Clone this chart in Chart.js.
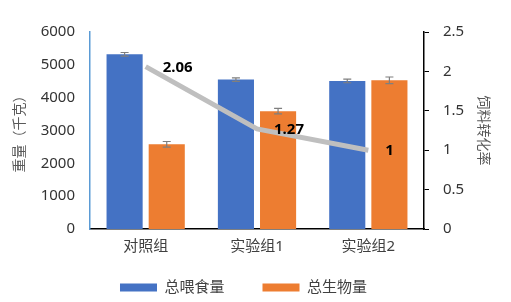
<!DOCTYPE html>
<html><head><meta charset="utf-8">
<script src="https://cdn.jsdelivr.net/npm/chart.js@4/dist/chart.umd.min.js"></script>
<style>html,body{margin:0;padding:0;background:#fff;}canvas{display:block;}</style>
</head><body>
<canvas id="c" width="511" height="302"></canvas>
<script>
const categories = ['对照组', '实验组1', '实验组2'];
const feedTotal = [5320, 4550, 4510];
const feedErr = [55, 55, 55];
const biomassTotal = [2580, 3590, 4530];
const biomassErr = [85, 85, 100];
const fcr = [2.06, 1.27, 1.0];
const fcrLabels = ['2.06', '1.27', '1'];
const leftTicks = [0, 1000, 2000, 3000, 4000, 5000, 6000];
const rightTicks = [0, 0.5, 1, 1.5, 2, 2.5];

const FONT = '"Noto Sans", "Noto Sans CJK SC", sans-serif';

const errorBars = {
  id: 'errorBars',
  afterDatasetsDraw(chart) {
    const ctx = chart.ctx;
    const y = chart.scales.y;
    const errs = [feedErr, biomassErr];
    ctx.save();
    ctx.strokeStyle = '#7f7f7f';
    ctx.lineWidth = 1.2;
    [0, 1].forEach(di => {
      const meta = chart.getDatasetMeta(di);
      meta.data.forEach((bar, i) => {
        const v = chart.data.datasets[di].data[i];
        const e = errs[di][i];
        const yt = y.getPixelForValue(v + e), yb = y.getPixelForValue(v - e);
        const x = bar.x;
        ctx.beginPath();
        ctx.moveTo(x, yt); ctx.lineTo(x, yb);
        ctx.moveTo(x - 4, yt); ctx.lineTo(x + 4, yt);
        ctx.moveTo(x - 4, yb); ctx.lineTo(x + 4, yb);
        ctx.stroke();
      });
    });
    ctx.restore();
  }
};

const lineLabels = {
  id: 'lineLabels',
  afterDatasetsDraw(chart) {
    const ctx = chart.ctx;
    const meta = chart.getDatasetMeta(2);
    ctx.save();
    ctx.fillStyle = '#000';
    ctx.font = 'bold 15px ' + FONT;
    ctx.textAlign = 'left';
    ctx.textBaseline = 'middle';
    meta.data.forEach((pt, i) => {
      ctx.fillText(fcrLabels[i], pt.x + 17, pt.y + 1);
    });
    ctx.restore();
  }
};

const legendShift = {
  id: 'legendShift',
  beforeDraw(chart) {
    const lg = chart.legend;
    if (lg) {
      lg.left = -12;
      lg.right = chart.width - 12;
      lg.top = 242;
    }
  }
};

new Chart(document.getElementById('c'), {
  data: {
    labels: categories,
    datasets: [
      { type: 'bar', label: '总喂食量', data: feedTotal, backgroundColor: '#4472c4', yAxisID: 'y', order: 1,
        categoryPercentage: 0.757, barPercentage: 0.857 },
      { type: 'bar', label: '总生物量', data: biomassTotal, backgroundColor: '#ed7d31', yAxisID: 'y', order: 1,
        categoryPercentage: 0.757, barPercentage: 0.857 },
      { type: 'line', label: '饲料转化率', data: fcr, borderColor: '#bfbfbf', borderWidth: 5, pointRadius: 0,
        yAxisID: 'y1', order: 0, tension: 0 }
    ]
  },
  options: {
    responsive: false,
    animation: false,
    layout: { padding: { top: 32, left: 0, right: 0, bottom: 0 } },
    plugins: {
      tooltip: { enabled: false },
      legend: {
        position: 'bottom',
        maxHeight: 35,
        labels: {
          boxWidth: 37, boxHeight: 8, padding: 38,
          color: '#404040',
          font: { size: 15, family: FONT },
          filter: item => item.datasetIndex < 2
        }
      }
    },
    scales: {
      x: {
        grid: { display: false, drawTicks: false },
        border: { display: true, color: '#000', width: 1.5 },
        ticks: { color: '#404040', padding: 9, font: { size: 15, family: FONT } },
        afterFit: s => { s.height = 38; }
      },
      y: {
        position: 'left',
        min: 0, max: 6000,
        afterBuildTicks: s => { s.ticks = leftTicks.map(v => ({ value: v })); },
        grid: { display: false, drawTicks: false },
        border: { display: true, color: '#5b9bd5', width: 1.5 },
        ticks: { color: '#333', padding: 15, font: { size: 15, family: FONT }, callback: v => String(v) },
        title: { display: true, text: '重量（千克）', color: '#595959', padding: { top: 12, bottom: 0 },
          font: { size: 14, family: FONT } },
        afterFit: s => { s.width = 90; }
      },
      y1: {
        position: 'right',
        min: 0, max: 2.5,
        afterBuildTicks: s => { s.ticks = rightTicks.map(v => ({ value: v })); },
        grid: { display: true, drawOnChartArea: false, drawTicks: true, tickLength: 5, color: '#000' },
        border: { display: true, color: '#000', width: 1.5 },
        ticks: { color: '#333', padding: 14, font: { size: 15, family: FONT }, callback: v => String(v) },
        title: { display: true, text: '饲料转化率', color: '#595959', padding: { top: 20, bottom: 0 },
          font: { size: 14, family: FONT } },
        afterFit: s => { s.width = 87; }
      }
    }
  },
  plugins: [errorBars, lineLabels, legendShift]
});
</script>
</body></html>
